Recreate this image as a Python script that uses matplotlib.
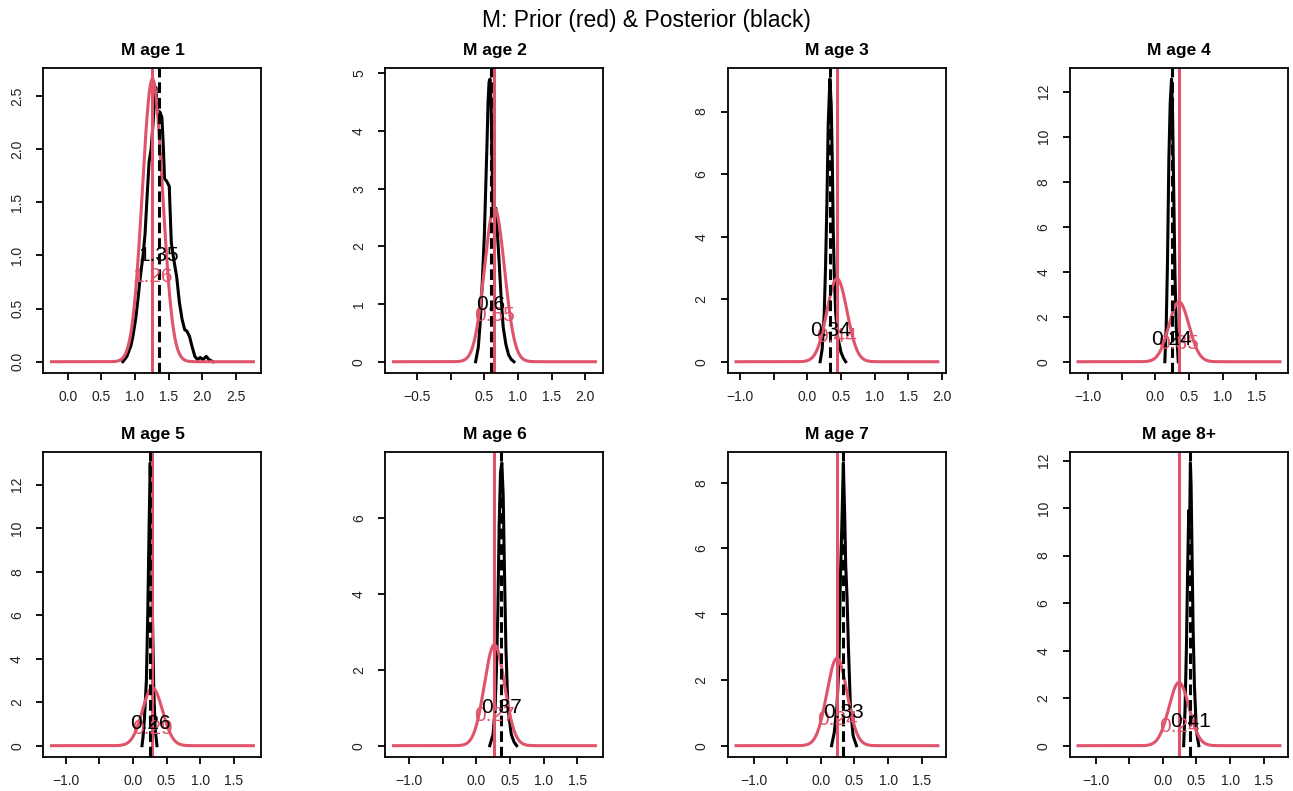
import numpy as np
import matplotlib
matplotlib.use("Agg")
import matplotlib.pyplot as plt

plt.rcParams['font.family'] = ['Liberation Sans', 'DejaVu Sans']

RED = "#DF536B"

# ---------------- data ----------------
titles = ["M age 1", "M age 2", "M age 3", "M age 4",
          "M age 5", "M age 6", "M age 7", "M age 8+"]

prior_mean = [1.26, 0.65, 0.44, 0.35, 0.29, 0.27, 0.24, 0.24]
prior_sd = 0.15
prior_half_range = 1.5
prior_label = ["1.26", "0.65", "0.44", "0.35", "0.29", "0.27", "0.24", "0.24"]

post_median = [1.35, 0.60, 0.34, 0.24, 0.26, 0.37, 0.33, 0.41]
post_label = ["1.35", "0.6", "0.34", "0.24", "0.26", "0.37", "0.33", "0.41"]

# posterior densities
post_x1 = [0.82, 0.88, 0.94, 0.97, 1.01, 1.04, 1.08, 1.12, 1.15, 1.18, 1.21, 1.24, 1.27,
           1.29, 1.31, 1.33, 1.35, 1.37, 1.40, 1.42, 1.44, 1.47, 1.51, 1.54, 1.58, 1.62,
           1.66, 1.70, 1.74, 1.77, 1.81, 1.85, 1.89, 1.93, 1.97, 2.01, 2.06, 2.10, 2.16]
post_y1 = [0.00, 0.05, 0.15, 0.24, 0.40, 0.56, 0.80, 1.00, 1.20, 1.55, 1.88, 2.00, 2.25,
           2.45, 2.58, 2.40, 2.32, 2.35, 2.30, 2.05, 1.72, 1.70, 1.65, 1.12, 0.95, 0.80,
           0.56, 0.40, 0.30, 0.29, 0.24, 0.14, 0.05, 0.02, 0.04, 0.02, 0.05, 0.02, 0.00]

post_x2 = [0.37, 0.41, 0.44, 0.47, 0.50, 0.52, 0.54, 0.555, 0.57, 0.585, 0.60, 0.615, 0.63,
           0.65, 0.67, 0.69, 0.72, 0.75, 0.78, 0.82, 0.86, 0.90, 0.94]
post_y2 = [0.00, 0.25, 0.70, 1.40, 2.20, 3.00, 3.80, 4.50, 4.85, 4.90, 4.50, 3.40, 2.64,
           2.62, 2.66, 2.30, 1.73, 1.10, 0.60, 0.30, 0.12, 0.04, 0.00]

post_x3 = [0.19, 0.22, 0.25, 0.27, 0.29, 0.31, 0.335, 0.355, 0.37, 0.385, 0.40, 0.42,
           0.45, 0.50, 0.54, 0.57]
post_y3 = [0.00, 0.40, 1.50, 3.00, 5.00, 7.60, 9.04, 8.20, 6.50, 4.20, 2.80, 1.60,
           0.80, 0.30, 0.10, 0.00]

post_x4 = [0.14, 0.16, 0.18, 0.20, 0.22, 0.24, 0.255, 0.27, 0.29, 0.31, 0.34]
post_y4 = [0.00, 1.50, 4.50, 9.00, 11.5, 12.56, 11.0, 8.00, 4.00, 1.50, 0.00]

post_x5 = [0.135, 0.15, 0.17, 0.20, 0.22, 0.24, 0.257, 0.27, 0.29, 0.31, 0.33, 0.357]
post_y5 = [0.00, 0.40, 1.20, 3.00, 6.00, 10.0, 13.0, 10.5, 6.00, 2.50, 0.80, 0.00]

post_x6 = [0.20, 0.25, 0.28, 0.30, 0.32, 0.34, 0.36, 0.38, 0.40, 0.42, 0.44, 0.47,
           0.52, 0.56, 0.60]
post_y6 = [0.00, 0.30, 1.00, 2.00, 3.50, 5.80, 7.20, 7.45, 6.60, 4.50, 2.60, 1.00,
           0.30, 0.10, 0.00]

post_x7 = [0.16, 0.20, 0.24, 0.27, 0.29, 0.31, 0.335, 0.355, 0.37, 0.39, 0.41, 0.44,
           0.48, 0.53]
post_y7 = [0.00, 0.40, 1.20, 2.50, 5.00, 6.50, 8.60, 7.00, 5.50, 4.50, 3.00, 1.20,
           0.30, 0.00]

post_x8 = [0.31, 0.33, 0.35, 0.37, 0.385, 0.40, 0.41, 0.42, 0.435, 0.45, 0.47, 0.50, 0.535]
post_y8 = [0.00, 1.50, 4.00, 7.50, 9.90, 9.50, 11.9, 11.0, 8.00, 5.00, 2.50, 0.60, 0.00]

post_x = [post_x1, post_x2, post_x3, post_x4, post_x5, post_x6, post_x7, post_x8]
post_y = [post_y1, post_y2, post_y3, post_y4, post_y5, post_y6, post_y7, post_y8]

x_ticks = [[0.0, 0.5, 1.0, 1.5, 2.0, 2.5],
           [-0.5, 0.0, 0.5, 1.0, 1.5, 2.0],
           [-1.0, -0.5, 0.0, 0.5, 1.0, 1.5, 2.0],
           [-1.0, -0.5, 0.0, 0.5, 1.0, 1.5],
           [-1.0, -0.5, 0.0, 0.5, 1.0, 1.5],
           [-1.0, -0.5, 0.0, 0.5, 1.0, 1.5],
           [-1.0, -0.5, 0.0, 0.5, 1.0, 1.5],
           [-1.0, -0.5, 0.0, 0.5, 1.0, 1.5]]
x_tick_labels = [["0.0", "0.5", "1.0", "1.5", "2.0", "2.5"],
                 ["\u22120.5", "", "0.5", "1.0", "1.5", "2.0"],
                 ["\u22121.0", "", "0.0", "0.5", "1.0", "1.5", "2.0"],
                 ["\u22121.0", "", "0.0", "0.5", "1.0", "1.5"],
                 ["\u22121.0", "", "0.0", "0.5", "1.0", "1.5"],
                 ["\u22121.0", "", "0.0", "0.5", "1.0", "1.5"],
                 ["\u22121.0", "", "0.0", "0.5", "1.0", "1.5"],
                 ["\u22121.0", "", "0.0", "0.5", "1.0", "1.5"]]
y_ticks = [[0.0, 0.5, 1.0, 1.5, 2.0, 2.5],
           [0, 1, 2, 3, 4, 5],
           [0, 2, 4, 6, 8],
           [0, 2, 4, 6, 8, 10, 12],
           [0, 2, 4, 6, 8, 10, 12],
           [0, 2, 4, 6],
           [0, 2, 4, 6, 8],
           [0, 2, 4, 6, 8, 10, 12]]
y_tick_labels = [["0.0", "0.5", "1.0", "1.5", "2.0", "2.5"],
                 ["0", "1", "2", "3", "4", "5"],
                 ["0", "2", "4", "6", "8"],
                 ["0", "2", "4", "6", "8", "10", "12"],
                 ["0", "2", "4", "6", "8", "10", "12"],
                 ["0", "2", "4", "6"],
                 ["0", "2", "4", "6", "8"],
                 ["0", "2", "4", "6", "8", "10", "12"]]

# ---------------- figure ----------------
fig = plt.figure(figsize=(12.93, 7.91), dpi=100)
fig.patch.set_facecolor("white")

lefts = [0.0336, 0.2981, 0.5630, 0.8275]
bottoms = [0.5284, 0.0430]
w, h = 0.1686, 0.386

for i in range(8):
    r, c = divmod(i, 4)
    ax = fig.add_axes([lefts[c], bottoms[r], w, h])
    m = prior_mean[i]
    xs = np.linspace(m - prior_half_range, m + prior_half_range, 600)
    ys = np.exp(-0.5 * ((xs - m) / prior_sd) ** 2) / (prior_sd * np.sqrt(2 * np.pi))

    ax.plot(post_x[i], post_y[i], color="black", lw=2.2, solid_joinstyle="round")
    ax.plot(xs, ys, color=RED, lw=2.2)
    ax.axvline(m, color=RED, lw=2.2)
    ax.axvline(post_median[i], color="black", lw=2.2, dashes=(3.5, 1.6))
    ax.text(m, 0.8, prior_label[i], color=RED, fontsize=15, ha="center", va="center")
    ax.text(post_median[i], 1.0, post_label[i], color="black", fontsize=15,
            ha="center", va="center")

    x0, x1 = m - prior_half_range, m + prior_half_range
    pad = 0.04 * (x1 - x0)
    ax.set_xlim(x0 - pad, x1 + pad)
    M = max(max(ys), max(post_y[i]))
    ax.set_ylim(-0.04 * M, 1.04 * M)

    ax.set_xticks(x_ticks[i])
    ax.set_xticklabels(x_tick_labels[i])
    ax.set_yticks(y_ticks[i])
    ax.set_yticklabels(y_tick_labels[i], rotation=90, va="center")
    ax.tick_params(axis="both", direction="out", length=5, width=1.3,
                   labelsize=10, color="black", labelcolor="#222222")
    ax.tick_params(axis="x", pad=7)
    ax.tick_params(axis="y", pad=9)
    for s in ax.spines.values():
        s.set_linewidth(1.3)
    ax.set_title(titles[i], fontsize=12.5, fontweight="bold", pad=9)

fig.suptitle("M: Prior (red) & Posterior (black)", fontsize=16.5, y=0.988)

fig.savefig("out.png", dpi=100, facecolor="white")
